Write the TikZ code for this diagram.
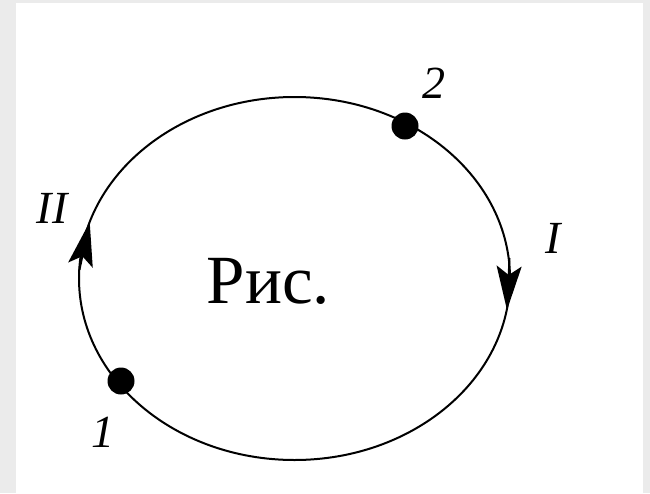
\documentclass[tikz,border=0pt]{standalone}
\usepackage{fontspec}
\setmainfont{Liberation Serif}
\usetikzlibrary{arrows.meta}
\definecolor{framegray}{HTML}{EBEBEB}
\begin{document}
\begin{tikzpicture}[x=1pt,y=-1pt,
  orbit/.style={line width=2pt},
  dotpt/.style={circle,fill=black,inner sep=0pt,minimum size=27pt},
  lbl/.style={font=\fontsize{46}{52}\selectfont\itshape,anchor=base,inner sep=0pt},
  flowarrow/.style={line width=2pt,-{Stealth[length=44pt,width=25pt,inset=9pt]}}]
  \useasboundingbox (0,0) rectangle (650,493);
  \fill[framegray] (0,0) rectangle (650,493);
  \fill[white] (16,3) rectangle (643,493);
  % orbit
  \draw[orbit] (294.5,278.5) ellipse [x radius=215.5, y radius=181.5];
  % arrows on the orbit
  \coordinate (IIa) at (79.4,270);
  \coordinate (IIb) at (89.7,222);
  \coordinate (Ia) at (509.5,258);
  \coordinate (Ib) at (507,310);
  \draw[flowarrow] (IIa) -- (IIb);
  \draw[flowarrow] (Ia) -- (Ib);
  % points
  \node[dotpt] (p2) at (405,126) {};
  \node[dotpt] (p1) at (121,381) {};
  % labels
  \node[lbl] (l2) at (434,98) {2};
  \node[lbl] (l1) at (103,447) {1};
  \node[lbl] (lI) at (553,253) {I};
  \node[lbl] (lII) at (52,223) {II};
  \node[font=\fontsize{69}{80}\selectfont,anchor=base,inner sep=0pt] (cap) at (268.5,303) {Рис.};
\end{tikzpicture}
\end{document}
